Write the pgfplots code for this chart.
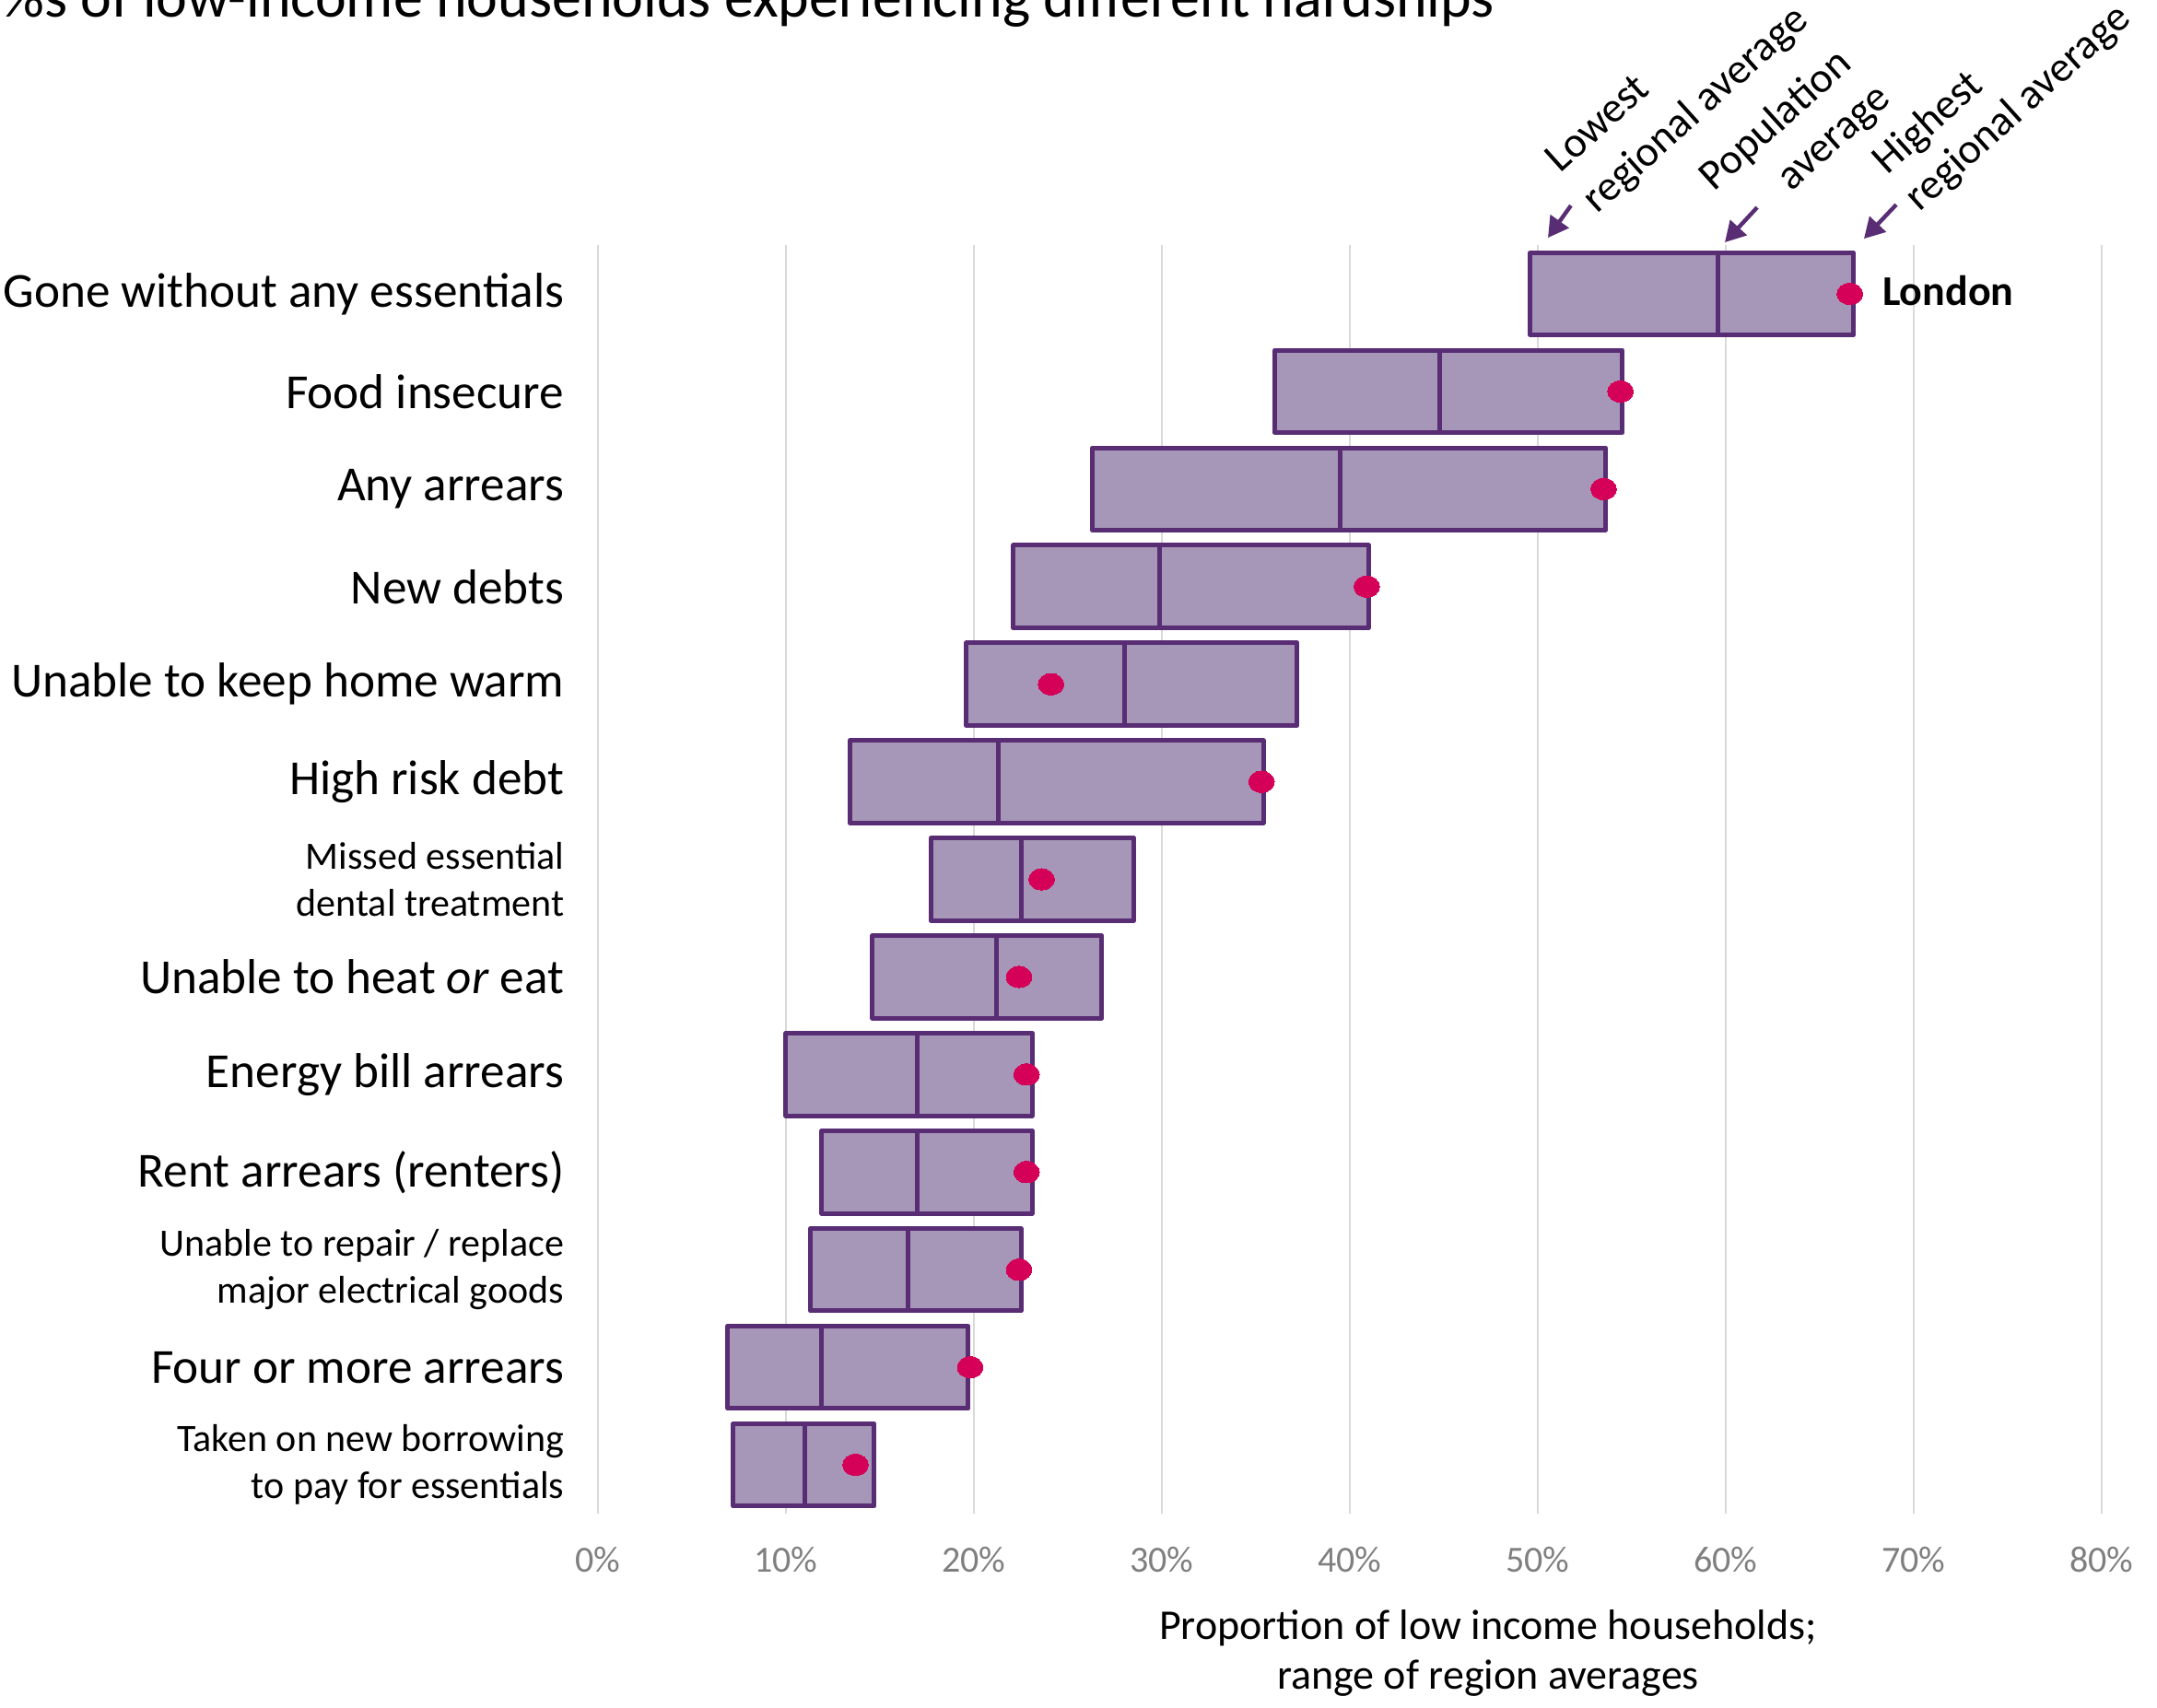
\documentclass[border=0pt]{standalone}
\usepackage{pgfplots}
\pgfplotsset{compat=1.18}
\usepackage{pgfplotstable}
\usepackage{fontspec}
\setmainfont{Carlito}
\usetikzlibrary{arrows.meta}

\definecolor{boxfill}{HTML}{A696B8}
\definecolor{boxline}{HTML}{582D73}
\definecolor{dotc}{HTML}{D50057}
\definecolor{gridc}{HTML}{D9D9D9}
\definecolor{tickc}{HTML}{7F7F7F}

\pgfplotstableread{
idx low mid high london
0 49.6 59.6 66.8 66.6
1 36.0 44.8 54.5 54.4
2 26.3 39.5 53.6 53.5
3 22.1 29.9 41.0 40.9
4 19.6 28.0 37.2 24.1
5 13.4 21.3 35.4 35.3
6 17.7 22.5 28.5 23.6
7 14.6 21.2 26.8 22.4
8 10.0 17.0 23.1 22.8
9 11.9 17.0 23.1 22.8
10 11.3 16.5 22.5 22.4
11 6.9 11.9 19.7 19.8
12 7.2 11.0 14.7 13.7
}\hardship

\newcommand{\bg}{\fontsize{13.3}{16}\selectfont}
\newcommand{\an}{\fontsize{11.6}{14}\selectfont}

\begin{document}
\begin{tikzpicture}
\begin{axis}[
  at={(0,0)}, anchor=south west,
  scale only axis, width=408pt, height=344.25pt,
  xmin=0, xmax=80, ymin=-0.5, ymax=12.5, y dir=reverse,
  xbar stacked, bar width=0.845,
  clip=false,
  axis line style={draw=none},
  major tick length=0pt,
  xtick={0,10,...,80},
  xticklabel={\pgfmathprintnumber{\tick}\%},
  /pgf/number format/assume math mode=true,
  xticklabel style={font=\fontsize{10}{12}\selectfont, text=tickc, anchor=base, yshift=-15.85pt},
  ytick={0,...,12},
  yticklabels={
    {\bg Gone without any essentials},
    {\bg Food insecure},
    {\bg Any arrears},
    {\bg New debts},
    {\bg Unable to keep home warm},
    {\bg High risk debt},
    {Missed essential\\dental treatment},
    {\bg Unable to heat \textit{or} eat},
    {\bg Energy bill arrears},
    {\bg Rent arrears (renters)},
    {Unable to repair / replace\\major electrical goods},
    {\bg Four or more arrears},
    {Taken on new borrowing\\to pay for essentials}
  },
  yticklabel style={font=\fontsize{10.5}{12.75}\selectfont, align=right, anchor=east, inner sep=0pt, xshift=-9pt},
  xmajorgrids, grid style={gridc, line width=0.7pt},
]
\addplot[draw=none, fill=none] table[x=low, y=idx]{\hardship};
\addplot[fill=boxfill, draw=boxline, line width=1.25pt, line join=round] table[x expr=\thisrow{mid}-\thisrow{low}, y=idx]{\hardship};
\addplot[fill=boxfill, draw=boxline, line width=1.25pt, line join=round] table[x expr=\thisrow{high}-\thisrow{mid}, y=idx]{\hardship};

% annotations
\node[rotate=42, anchor=base west, font=\an, inner sep=0pt] at (axis cs:51.18,-1.225) {Lowest};
\node[rotate=42, anchor=base west, font=\an, inner sep=0pt] at (axis cs:53.14,-0.81) {regional average};
\node[rotate=42, anchor=base west, font=\an, inner sep=0pt] at (axis cs:59.36,-1.037) {Population};
\node[rotate=42, anchor=base west, font=\an, inner sep=0pt] at (axis cs:63.48,-1.04) {average};
\node[rotate=42, anchor=base west, font=\an, inner sep=0pt] at (axis cs:68.58,-1.206) {Highest};
\node[rotate=42, anchor=base west, font=\an, inner sep=0pt] at (axis cs:70.29,-0.83) {regional average};
\draw[boxline, line width=1.1pt, -{Triangle[length=5.5pt,width=6pt]}] (axis cs:51.76,-0.905) -- (axis cs:50.54,-0.575);
\draw[boxline, line width=1.1pt, -{Triangle[length=5.5pt,width=6pt]}] (axis cs:61.67,-0.886) -- (axis cs:59.95,-0.528);
\draw[boxline, line width=1.1pt, -{Triangle[length=5.5pt,width=6pt]}] (axis cs:69.07,-0.914) -- (axis cs:67.35,-0.565);

\node[anchor=west, font=\fontsize{11.5}{14}\selectfont\bfseries, inner sep=0pt] at (axis cs:68.3,-0.03) {London};

\node[anchor=base east, font=\fontsize{16}{19}\selectfont, inner sep=0pt] at (axis cs:47.75,-2.841) {\%s of low-income households experiencing different hardships};

\node[anchor=base, font=\fontsize{11.5}{14}\selectfont, inner sep=0pt] at (axis cs:47.35,13.793) {Proportion of low income households;};
\node[anchor=base, font=\fontsize{11.5}{14}\selectfont, inner sep=0pt] at (axis cs:47.35,14.296) {range of region averages};
\end{axis}

\begin{axis}[
  at={(0,0)}, anchor=south west,
  scale only axis, width=408pt, height=344.25pt,
  xmin=0, xmax=80, ymin=-0.5, ymax=12.5, y dir=reverse,
  hide axis, clip=false,
]
\addplot[dotc, only marks, mark=*, mark size=2.9pt, mark options={fill=dotc, draw=dotc, line width=0pt, xscale=1.2}] table[x=london, y=idx]{\hardship};
\end{axis}

\pgfresetboundingbox
\useasboundingbox (-162.25pt,-52.5pt) rectangle (423pt,410.75pt);
\end{tikzpicture}
\end{document}
